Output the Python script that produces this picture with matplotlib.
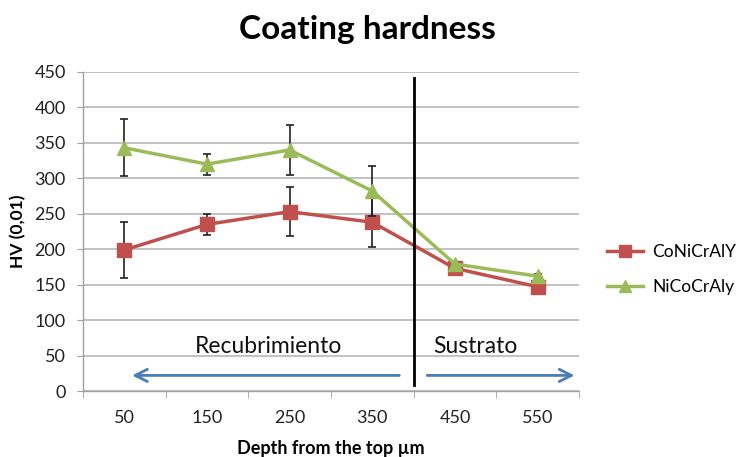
import matplotlib
matplotlib.use("Agg")
import matplotlib.pyplot as plt
import numpy as np

plt.rcParams['font.family'] = ['Lato', 'DejaVu Sans']

depths = ["50", "150", "250", "350", "450", "550"]
y_ticks = [0, 50, 100, 150, 200, 250, 300, 350, 400, 450]

coni_vals = [199, 235, 253, 238, 173, 147]
coni_err = [40, 15, 35, 35, 3, 3]
nico_vals = [343, 320, 340, 282, 179, 162]
nico_err = [40, 15, 35, 35, 3, 3]

red = "#C0504D"
green = "#9BBB59"
blue = "#4A7EBB"

fig = plt.figure(figsize=(7.39, 4.57), dpi=100)
ax = fig.add_axes([0.1123, 0.1444, 0.6712, 0.6981])

x = np.arange(len(depths))

coni = ax.errorbar(x, coni_vals, yerr=coni_err, color=red, lw=2.5, marker="s",
                   markersize=10, ecolor="#222222", elinewidth=1.2, capsize=3,
                   capthick=1.2, zorder=3)
nico = ax.errorbar(x, nico_vals, yerr=nico_err, color=green, lw=2.5, marker="^",
                   markersize=10, ecolor="#222222", elinewidth=1.2, capsize=3,
                   capthick=1.2, zorder=4)

ax.set_xlim(-0.5, len(depths) - 0.5)
ax.set_ylim(0, 450)
ax.set_yticks(y_ticks)
ax.set_xticks(x)
ax.set_xticklabels(depths)
ax.set_xticks(np.arange(-0.5, len(depths)), minor=True)
ax.tick_params(axis="x", which="major", length=0, pad=14, labelsize=13,
               colors="#222222")
ax.tick_params(axis="x", which="minor", length=5, color="#A0A0A0")
ax.tick_params(axis="y", length=4.5, pad=8, labelsize=13, colors="#222222")
ax.tick_params(axis="y", color="#A0A0A0")

ax.grid(axis="y", color="#B8B8B8", lw=1.2)
ax.set_axisbelow(True)
for side in ["top", "right"]:
    ax.spines[side].set_visible(False)
for side in ["left", "bottom"]:
    ax.spines[side].set_color("#A0A0A0")
    ax.spines[side].set_linewidth(1.0)

# boundary between coating and substrate
ax.plot([3.5, 3.5], [8, 441], color="black", lw=2, zorder=5, clip_on=False)

ax.annotate("", xy=(0.06, 22), xytext=(3.36, 22),
            arrowprops=dict(arrowstyle="->", color=blue, lw=2,
                            mutation_scale=22))
ax.annotate("", xy=(5.48, 22), xytext=(3.63, 22),
            arrowprops=dict(arrowstyle="->", color=blue, lw=2,
                            mutation_scale=22), annotation_clip=False)
ax.text(1.74, 63, "Recubrimiento", fontsize=16.5, ha="center", va="center",
        color="#111111")
ax.text(4.25, 63, "Sustrato", fontsize=16.5, ha="center", va="center",
        color="#111111")

ax.set_ylabel("HV (0,01)", fontsize=12.5, fontweight="bold", labelpad=6)
ax.set_xlabel("Depth from the top µm", fontsize=13, fontweight="bold",
              labelpad=10)
fig.suptitle("Coating hardness", fontsize=24, fontweight="bold",
             x=0.497, y=0.968)

ax.legend([coni[0], nico[0]], ["CoNiCrAlY", "NiCoCrAly"],
          loc="center left", bbox_to_anchor=(1.025, 0.38), frameon=False,
          fontsize=12.5, handlelength=2.1, labelspacing=1.1, markerscale=0.8,
          handletextpad=0.5)

fig.savefig("out.png", dpi=100)
